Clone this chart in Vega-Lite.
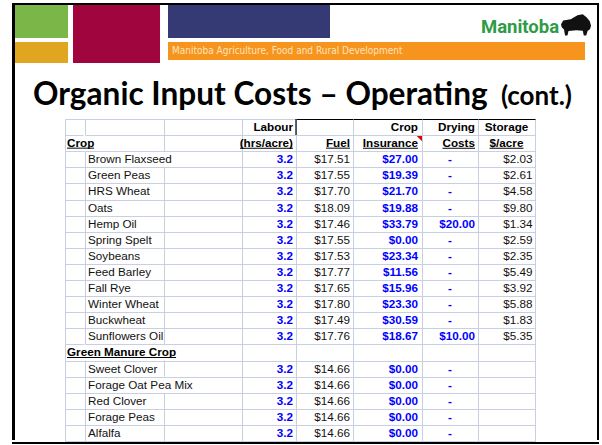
{
  "$schema": "https://vega.github.io/schema/vega-lite/v6.json",
  "background": "white",
  "padding": {"left": 12, "top": 3, "right": 3, "bottom": 3},
  "spacing": 0,
  "config": {
    "view": {"stroke": null},
    "text": {"font": "Liberation Sans", "fontSize": 11.7}
  },
  "datasets": {
    "crops": [
      {"row": "Brown Flaxseed", "labour": 3.2, "fuel": 17.51, "insurance": 27.00, "drying": null, "storage": 2.03},
      {"row": "Green Peas", "labour": 3.2, "fuel": 17.55, "insurance": 19.39, "drying": null, "storage": 2.61},
      {"row": "HRS Wheat", "labour": 3.2, "fuel": 17.70, "insurance": 21.70, "drying": null, "storage": 4.58},
      {"row": "Oats", "labour": 3.2, "fuel": 18.09, "insurance": 19.88, "drying": null, "storage": 9.80},
      {"row": "Hemp Oil", "labour": 3.2, "fuel": 17.46, "insurance": 33.79, "drying": 20.00, "storage": 1.34},
      {"row": "Spring Spelt", "labour": 3.2, "fuel": 17.55, "insurance": 0.00, "drying": null, "storage": 2.59},
      {"row": "Soybeans", "labour": 3.2, "fuel": 17.53, "insurance": 23.34, "drying": null, "storage": 2.35},
      {"row": "Feed Barley", "labour": 3.2, "fuel": 17.77, "insurance": 11.56, "drying": null, "storage": 5.49},
      {"row": "Fall Rye", "labour": 3.2, "fuel": 17.65, "insurance": 15.96, "drying": null, "storage": 3.92},
      {"row": "Winter Wheat", "labour": 3.2, "fuel": 17.80, "insurance": 23.30, "drying": null, "storage": 5.88},
      {"row": "Buckwheat", "labour": 3.2, "fuel": 17.49, "insurance": 30.59, "drying": null, "storage": 1.83},
      {"row": "Sunflowers Oil", "labour": 3.2, "fuel": 17.76, "insurance": 18.67, "drying": 10.00, "storage": 5.35},
      {"row": "Sweet Clover", "labour": 3.2, "fuel": 14.66, "insurance": 0.00, "drying": null, "storage": null},
      {"row": "Forage Oat Pea Mix", "labour": 3.2, "fuel": 14.66, "insurance": 0.00, "drying": null, "storage": null},
      {"row": "Red Clover", "labour": 3.2, "fuel": 14.66, "insurance": 0.00, "drying": null, "storage": null},
      {"row": "Forage Peas", "labour": 3.2, "fuel": 14.66, "insurance": 0.00, "drying": null, "storage": null},
      {"row": "Alfalfa", "labour": 3.2, "fuel": 14.66, "insurance": 0.00, "drying": null, "storage": null}
    ],
    "labels": [
      {"column": "Crop", "row": "hdr2", "text": "Crop"},
      {"column": "Crop", "row": "Green Manure Crop", "text": "Green Manure Crop"},
      {"column": "Labour", "row": "hdr1", "text": "Labour"},
      {"column": "Labour", "row": "hdr2", "text": "(hrs/acre)"},
      {"column": "Fuel", "row": "hdr2", "text": "Fuel"},
      {"column": "Insurance", "row": "hdr1", "text": "Crop"},
      {"column": "Insurance", "row": "hdr2", "text": "Insurance"},
      {"column": "Drying", "row": "hdr1", "text": "Drying"},
      {"column": "Drying", "row": "hdr2", "text": "Costs"},
      {"column": "Storage", "row": "hdr1", "text": "Storage"},
      {"column": "Storage", "row": "hdr2", "text": "$/acre"}
    ],
    "banner": [
      {"item": "division", "text": "Manitoba Agriculture, Food and Rural Development"},
      {"item": "logo", "text": "Manitoba"}
    ],
    "title": [
      {"part": "main", "text": "Organic Input Costs – Operating"},
      {"part": "cont", "text": "(cont.)"}
    ]
  },
  "vconcat": [
    {"width": 587, "height": 2, "view": {"fill": "#000000"}, "data": {"values": []}, "mark": "point", "encoding": {}},
    {
      "spacing": 0,
      "hconcat": [
        {"width": 3, "height": 435, "view": {"fill": "#000000"}, "data": {"values": []}, "mark": "point", "encoding": {}},
        {
          "spacing": 0,
          "vconcat": [
            {
              "spacing": 8,
              "hconcat": [
                {
                  "spacing": 5,
                  "hconcat": [
                    {
                      "spacing": 4,
                      "vconcat": [
                        {"width": 53, "height": 33, "view": {"fill": "#7ab648"}, "data": {"values": []}, "mark": "point", "encoding": {}},
                        {"width": 53, "height": 21, "view": {"fill": "#e0a61f"}, "data": {"values": []}, "mark": "point", "encoding": {}}
                      ]
                    },
                    {"width": 87, "height": 58, "view": {"fill": "#a1053e"}, "data": {"values": []}, "mark": "point", "encoding": {}}
                  ]
                },
                {
                  "spacing": 4,
                  "vconcat": [
                    {
                      "spacing": 150,
                      "hconcat": [
                        {"width": 162, "height": 33, "view": {"fill": "#363a74"}, "data": {"values": []}, "mark": "point", "encoding": {}},
                        {
                          "spacing": 0,
                          "bounds": "flush",
                          "hconcat": [
                            {
                              "width": 80, "height": 33,
                              "data": {"name": "banner"},
                              "transform": [{"filter": {"field": "item", "equal": "logo"}}],
                              "mark": {"type": "text", "font": "Roboto", "fontWeight": "bold", "fontSize": 18.5, "color": "#2e9b47", "align": "center", "dy": 5.5},
                              "encoding": {"text": {"field": "text"}}
                            },
                            {
                              "width": 32, "height": 33,
                              "data": {"values": [{"icon": "bison"}]},
                              "mark": {"type": "point", "shape": "M-1,-0.05L-0.85,-0.3L-0.35,-0.38L0.1,-0.65L0.45,-0.72L0.72,-0.5L0.92,-0.25L1,0.05L0.93,0.28L0.78,0.38L0.68,0.7L0.52,0.7L0.45,0.38L0.02,0.35L-0.5,0.4L-0.57,0.7L-0.73,0.7L-0.8,0.3L-0.95,0.15Z", "size": 900, "filled": true, "color": "#111111", "opacity": 1, "strokeWidth": 0, "yOffset": 3.5},
                              "encoding": {}
                            }
                          ]
                        }
                      ]
                    },
                    {
                      "width": 417, "height": 18,
                      "view": {"fill": "#f7941d"},
                      "data": {"name": "banner"},
                      "transform": [{"filter": {"field": "item", "equal": "division"}}],
                      "mark": {"type": "text", "align": "left", "dx": 4, "font": "DejaVu Sans Condensed, sans-serif", "fontSize": 10, "color": "#fde5bd"},
                      "encoding": {
                        "x": {"field": "item", "type": "nominal", "bandPosition": 0, "scale": {"type": "band", "paddingInner": 0, "paddingOuter": 0}, "axis": null},
                        "text": {"field": "text"}
                      }
                    }
                  ]
                }
              ]
            },
            {
              "width": 582, "height": 55,
              "data": {"name": "title"},
              "layer": [
                {
                  "transform": [{"filter": {"field": "part", "equal": "main"}}],
                  "mark": {"type": "text", "align": "left", "baseline": "alphabetic", "font": "Lato", "fontWeight": "bold", "fontSize": 31.6, "dx": 18, "dy": 14, "color": "#000000"},
                  "encoding": {
                    "x": {"field": "part", "type": "nominal", "bandPosition": 0, "scale": {"type": "band", "domain": ["main", "cont"], "paddingInner": 0, "paddingOuter": 0}, "axis": null},
                    "text": {"field": "text"}
                  }
                },
                {
                  "transform": [{"filter": {"field": "part", "equal": "cont"}}],
                  "mark": {"type": "text", "align": "right", "baseline": "alphabetic", "font": "Lato", "fontWeight": "bold", "fontSize": 26, "dx": -25, "dy": 14, "color": "#000000"},
                  "encoding": {
                    "x": {"field": "part", "type": "nominal", "bandPosition": 1, "scale": {"type": "band", "domain": ["main", "cont"], "paddingInner": 0, "paddingOuter": 0}, "axis": null},
                    "text": {"field": "text"}
                  }
                }
              ]
            },
            {
              "spacing": 0,
              "bounds": "flush",
              "hconcat": [
                {"width": 50, "height": 322, "data": {"values": []}, "mark": "point", "encoding": {}},
                {
                  "width": 20, "height": 322,
                  "view": {"stroke": "#c7cfe1"},
                  "data": {"name": "crops"},
                  "mark": {"type": "rect", "opacity": 0},
                  "encoding": {
                    "x": {"datum": "indent", "type": "nominal", "scale": {"type": "band", "paddingInner": 0, "paddingOuter": 0}, "axis": null},
                    "y": {"field": "row", "type": "nominal", "scale": {"type": "band", "domain": ["hdr1","hdr2","Brown Flaxseed","Green Peas","HRS Wheat","Oats","Hemp Oil","Spring Spelt","Soybeans","Feed Barley","Fall Rye","Winter Wheat","Buckwheat","Sunflowers Oil","Green Manure Crop","Sweet Clover","Forage Oat Pea Mix","Red Clover","Forage Peas","Alfalfa"], "paddingInner": 0, "paddingOuter": 0}, "axis": {"title": null, "grid": true, "tickBand": "extent", "labels": false, "ticks": false, "domain": false, "gridColor": "#c7cfe1", "zindex": 1}}
                  }
                },
                {
                  "width": 157, "height": 322,
                  "view": {"stroke": "#c7cfe1"},
                  "encoding": {
                    "x": {"datum": "name", "type": "nominal", "scale": {"type": "band", "domain": ["name", "name2"], "paddingInner": 0, "paddingOuter": 0}, "axis": {"title": null, "grid": true, "tickBand": "extent", "labels": false, "ticks": false, "domain": false, "gridColor": "#c7cfe1", "zindex": 0}},
                    "y": {"field": "row", "type": "nominal", "scale": {"type": "band", "domain": ["hdr1","hdr2","Brown Flaxseed","Green Peas","HRS Wheat","Oats","Hemp Oil","Spring Spelt","Soybeans","Feed Barley","Fall Rye","Winter Wheat","Buckwheat","Sunflowers Oil","Green Manure Crop","Sweet Clover","Forage Oat Pea Mix","Red Clover","Forage Peas","Alfalfa"], "paddingInner": 0, "paddingOuter": 0}, "axis": {"title": null, "grid": true, "tickBand": "extent", "labels": false, "ticks": false, "domain": false, "gridColor": "#c7cfe1", "zindex": 1}}
                  },
                  "layer": [
                    {
                      "data": {"name": "crops"},
                      "transform": [{"filter": {"field": "row", "oneOf": ["Brown Flaxseed", "Forage Oat Pea Mix"]}}],
                      "mark": {"type": "rect", "fill": "white", "xOffset": -1.5},
                      "encoding": {"x": {"datum": "name2", "type": "nominal", "scale": {"type": "band", "domain": ["name", "name2"], "paddingInner": 0, "paddingOuter": 0}, "axis": {"title": null, "grid": true, "tickBand": "extent", "labels": false, "ticks": false, "domain": false, "gridColor": "#c7cfe1", "zindex": 0}}}
                    },
                    {
                      "data": {"name": "labels"},
                      "transform": [{"filter": {"field": "column", "equal": "Crop"}}],
                      "mark": {"type": "rect", "fill": "white", "xOffset": -1.5}
                    },
                    {
                      "data": {"name": "labels"},
                      "transform": [{"filter": {"field": "row", "equal": "Green Manure Crop"}}],
                      "mark": {"type": "rect", "fill": "white", "xOffset": -1.5},
                      "encoding": {"x": {"datum": "name2", "type": "nominal", "scale": {"type": "band", "domain": ["name", "name2"], "paddingInner": 0, "paddingOuter": 0}, "axis": {"title": null, "grid": true, "tickBand": "extent", "labels": false, "ticks": false, "domain": false, "gridColor": "#c7cfe1", "zindex": 0}}}
                    },
                    {
                      "data": {"name": "crops"},
                      "mark": {"type": "text", "align": "left", "dx": -36.25, "color": "#111111"},
                      "encoding": {"text": {"field": "row"}}
                    },
                    {
                      "data": {"name": "labels"},
                      "transform": [{"filter": {"field": "column", "equal": "Crop"}}],
                      "mark": {"type": "text", "align": "left", "dx": -57.25, "fontWeight": "bold", "color": "#000000"},
                      "encoding": {"text": {"field": "text"}}
                    },
                    {
                      "data": {"name": "labels"},
                      "transform": [{"filter": {"and": [{"field": "column", "equal": "Crop"}, {"field": "row", "equal": "hdr2"}]}}],
                      "mark": {"type": "tick", "orient": "horizontal", "size": 27, "thickness": 1, "xOffset": -43.7, "yOffset": 5, "color": "#000000", "opacity": 1}
                    },
                    {
                      "data": {"name": "labels"},
                      "transform": [{"filter": {"field": "row", "equal": "Green Manure Crop"}}],
                      "mark": {"type": "tick", "orient": "horizontal", "size": 109, "thickness": 1, "xOffset": -2.7, "yOffset": 5, "color": "#000000", "opacity": 1}
                    }
                  ]
                },
                {
                  "width": 54, "height": 322,
                  "view": {"stroke": "#c7cfe1"},
                  "encoding": {
                    "x": {"datum": "Labour", "type": "nominal", "scale": {"type": "band", "paddingInner": 0, "paddingOuter": 0}, "axis": null},
                    "y": {"field": "row", "type": "nominal", "scale": {"type": "band", "domain": ["hdr1","hdr2","Brown Flaxseed","Green Peas","HRS Wheat","Oats","Hemp Oil","Spring Spelt","Soybeans","Feed Barley","Fall Rye","Winter Wheat","Buckwheat","Sunflowers Oil","Green Manure Crop","Sweet Clover","Forage Oat Pea Mix","Red Clover","Forage Peas","Alfalfa"], "paddingInner": 0, "paddingOuter": 0}, "axis": {"title": null, "grid": true, "tickBand": "extent", "labels": false, "ticks": false, "domain": false, "gridColor": "#c7cfe1", "zindex": 1}}
                  },
                  "layer": [
                    {
                      "data": {"name": "labels"},
                      "transform": [{"filter": {"field": "column", "equal": "Labour"}}],
                      "mark": {"type": "text", "align": "right", "dx": 24, "fontWeight": "bold", "color": "#000000"},
                      "encoding": {"text": {"field": "text"}}
                    },
                    {
                      "data": {"name": "labels"},
                      "transform": [{"filter": {"and": [{"field": "column", "equal": "Labour"}, {"field": "row", "equal": "hdr2"}]}}],
                      "mark": {"type": "tick", "orient": "horizontal", "size": 53, "thickness": 1, "xOffset": -2.5, "yOffset": 5, "color": "#000000", "opacity": 1}
                    },
                    {
                      "data": {"name": "crops"},
                      "mark": {"type": "text", "align": "right", "dx": 24, "fontWeight": "bold", "color": "#0000ff"},
                      "encoding": {"text": {"field": "labour", "type": "quantitative", "format": ".1f"}}
                    }
                  ]
                },
                {
                  "width": 57, "height": 322,
                  "view": {"stroke": "#c7cfe1"},
                  "encoding": {
                    "x": {"datum": "Fuel", "type": "nominal", "scale": {"type": "band", "paddingInner": 0, "paddingOuter": 0}, "axis": {"title": null, "orient": "top", "domain": true, "domainColor": "#000000", "domainWidth": 1.2, "labels": false, "ticks": false, "grid": false, "zindex": 1}},
                    "y": {"field": "row", "type": "nominal", "scale": {"type": "band", "domain": ["hdr1","hdr2","Brown Flaxseed","Green Peas","HRS Wheat","Oats","Hemp Oil","Spring Spelt","Soybeans","Feed Barley","Fall Rye","Winter Wheat","Buckwheat","Sunflowers Oil","Green Manure Crop","Sweet Clover","Forage Oat Pea Mix","Red Clover","Forage Peas","Alfalfa"], "paddingInner": 0, "paddingOuter": 0}, "axis": {"title": null, "grid": true, "tickBand": "extent", "labels": false, "ticks": false, "domain": false, "gridColor": "#c7cfe1", "zindex": 1}}
                  },
                  "layer": [
                    {
                      "data": {"name": "labels"},
                      "transform": [{"filter": {"field": "column", "equal": "Fuel"}}],
                      "mark": {"type": "text", "align": "right", "dx": 25.5, "fontWeight": "bold", "color": "#000000"},
                      "encoding": {"text": {"field": "text"}}
                    },
                    {
                      "data": {"name": "labels"},
                      "transform": [{"filter": {"field": "column", "equal": "Fuel"}}],
                      "mark": {"type": "tick", "orient": "horizontal", "size": 24, "thickness": 1, "xOffset": 13.5, "yOffset": 5, "color": "#000000", "opacity": 1}
                    },
                    {
                      "data": {"name": "labels"},
                      "transform": [{"filter": {"field": "column", "equal": "Fuel"}}],
                      "mark": {"type": "tick", "orient": "vertical", "size": 16.1, "thickness": 1.2, "xOffset": -28.5, "yOffset": -16.1, "color": "#000000", "opacity": 1}
                    },
                    {
                      "data": {"name": "crops"},
                      "mark": {"type": "text", "align": "right", "dx": 25.5, "color": "#111111"},
                      "encoding": {"text": {"field": "fuel", "type": "quantitative", "format": "$.2f"}}
                    }
                  ]
                },
                {
                  "width": 69, "height": 322,
                  "view": {"stroke": "#c7cfe1"},
                  "encoding": {
                    "x": {"datum": "Insurance", "type": "nominal", "scale": {"type": "band", "paddingInner": 0, "paddingOuter": 0}, "axis": {"title": null, "orient": "top", "domain": true, "domainColor": "#000000", "domainWidth": 1.2, "labels": false, "ticks": false, "grid": false, "zindex": 1}},
                    "y": {"field": "row", "type": "nominal", "scale": {"type": "band", "domain": ["hdr1","hdr2","Brown Flaxseed","Green Peas","HRS Wheat","Oats","Hemp Oil","Spring Spelt","Soybeans","Feed Barley","Fall Rye","Winter Wheat","Buckwheat","Sunflowers Oil","Green Manure Crop","Sweet Clover","Forage Oat Pea Mix","Red Clover","Forage Peas","Alfalfa"], "paddingInner": 0, "paddingOuter": 0}, "axis": {"title": null, "grid": true, "tickBand": "extent", "labels": false, "ticks": false, "domain": false, "gridColor": "#c7cfe1", "zindex": 1}}
                  },
                  "layer": [
                    {
                      "data": {"name": "labels"},
                      "transform": [{"filter": {"field": "column", "equal": "Insurance"}}],
                      "mark": {"type": "text", "align": "right", "dx": 30.5, "fontWeight": "bold", "color": "#000000"},
                      "encoding": {"text": {"field": "text"}}
                    },
                    {
                      "data": {"name": "labels"},
                      "transform": [{"filter": {"and": [{"field": "column", "equal": "Insurance"}, {"field": "row", "equal": "hdr2"}]}}],
                      "mark": {"type": "tick", "orient": "horizontal", "size": 55, "thickness": 1, "xOffset": 3, "yOffset": 5, "color": "#000000", "opacity": 1}
                    },
                    {
                      "data": {"name": "labels"},
                      "transform": [{"filter": {"and": [{"field": "column", "equal": "Insurance"}, {"field": "row", "equal": "hdr2"}]}}],
                      "mark": {"type": "point", "shape": "M-1,-1L1,-1L1,1Z", "size": 36, "filled": true, "color": "#e00000", "opacity": 1, "strokeWidth": 0, "xOffset": 31.5, "yOffset": -5}
                    },
                    {
                      "data": {"name": "crops"},
                      "mark": {"type": "text", "align": "right", "dx": 30.5, "fontWeight": "bold", "color": "#0000ff"},
                      "encoding": {"text": {"field": "insurance", "type": "quantitative", "format": "$.2f"}}
                    }
                  ]
                },
                {
                  "width": 56, "height": 322,
                  "view": {"stroke": "#c7cfe1"},
                  "encoding": {
                    "x": {"datum": "Drying", "type": "nominal", "scale": {"type": "band", "paddingInner": 0, "paddingOuter": 0}, "axis": {"title": null, "orient": "top", "domain": true, "domainColor": "#000000", "domainWidth": 1.2, "labels": false, "ticks": false, "grid": false, "zindex": 1}},
                    "y": {"field": "row", "type": "nominal", "scale": {"type": "band", "domain": ["hdr1","hdr2","Brown Flaxseed","Green Peas","HRS Wheat","Oats","Hemp Oil","Spring Spelt","Soybeans","Feed Barley","Fall Rye","Winter Wheat","Buckwheat","Sunflowers Oil","Green Manure Crop","Sweet Clover","Forage Oat Pea Mix","Red Clover","Forage Peas","Alfalfa"], "paddingInner": 0, "paddingOuter": 0}, "axis": {"title": null, "grid": true, "tickBand": "extent", "labels": false, "ticks": false, "domain": false, "gridColor": "#c7cfe1", "zindex": 1}}
                  },
                  "layer": [
                    {
                      "data": {"name": "labels"},
                      "transform": [{"filter": {"field": "column", "equal": "Drying"}}],
                      "mark": {"type": "text", "align": "right", "dx": 25, "fontWeight": "bold", "color": "#000000"},
                      "encoding": {"text": {"field": "text"}}
                    },
                    {
                      "data": {"name": "labels"},
                      "transform": [{"filter": {"and": [{"field": "column", "equal": "Drying"}, {"field": "row", "equal": "hdr2"}]}}],
                      "mark": {"type": "tick", "orient": "horizontal", "size": 32.5, "thickness": 1, "xOffset": 8.75, "yOffset": 5, "color": "#000000", "opacity": 1}
                    },
                    {
                      "data": {"name": "crops"},
                      "transform": [{"filter": "datum.drying != null"}],
                      "mark": {"type": "text", "align": "right", "dx": 25, "fontWeight": "bold", "color": "#0000ff"},
                      "encoding": {"text": {"field": "drying", "type": "quantitative", "format": "$.2f"}}
                    },
                    {
                      "data": {"name": "crops"},
                      "transform": [{"filter": "datum.drying == null"}],
                      "mark": {"type": "text", "align": "center", "fontWeight": "bold", "color": "#0000ff"},
                      "encoding": {"text": {"value": "-"}}
                    }
                  ]
                },
                {
                  "width": 57, "height": 322,
                  "view": {"stroke": "#c7cfe1"},
                  "encoding": {
                    "x": {"datum": "Storage", "type": "nominal", "scale": {"type": "band", "paddingInner": 0, "paddingOuter": 0}, "axis": {"title": null, "orient": "top", "domain": true, "domainColor": "#000000", "domainWidth": 1.2, "labels": false, "ticks": false, "grid": false, "zindex": 1}},
                    "y": {"field": "row", "type": "nominal", "scale": {"type": "band", "domain": ["hdr1","hdr2","Brown Flaxseed","Green Peas","HRS Wheat","Oats","Hemp Oil","Spring Spelt","Soybeans","Feed Barley","Fall Rye","Winter Wheat","Buckwheat","Sunflowers Oil","Green Manure Crop","Sweet Clover","Forage Oat Pea Mix","Red Clover","Forage Peas","Alfalfa"], "paddingInner": 0, "paddingOuter": 0}, "axis": {"title": null, "grid": true, "tickBand": "extent", "labels": false, "ticks": false, "domain": false, "gridColor": "#c7cfe1", "zindex": 1}}
                  },
                  "layer": [
                    {
                      "data": {"name": "labels"},
                      "transform": [{"filter": {"field": "column", "equal": "Storage"}}],
                      "mark": {"type": "text", "align": "center", "fontWeight": "bold", "color": "#000000"},
                      "encoding": {"text": {"field": "text"}}
                    },
                    {
                      "data": {"name": "labels"},
                      "transform": [{"filter": {"and": [{"field": "column", "equal": "Storage"}, {"field": "row", "equal": "hdr2"}]}}],
                      "mark": {"type": "tick", "orient": "horizontal", "size": 34, "thickness": 1, "yOffset": 5, "color": "#000000", "opacity": 1}
                    },
                    {
                      "data": {"name": "crops"},
                      "transform": [{"filter": "datum.storage != null"}],
                      "mark": {"type": "text", "align": "right", "dx": 26, "color": "#111111"},
                      "encoding": {"text": {"field": "storage", "type": "quantitative", "format": "$.2f"}}
                    }
                  ]
                }
              ]
            }
          ]
        },
        {"width": 2, "height": 435, "view": {"fill": "#000000"}, "data": {"values": []}, "mark": "point", "encoding": {}}
      ]
    },
    {"width": 587, "height": 2, "view": {"fill": "#000000"}, "data": {"values": []}, "mark": "point", "encoding": {}}
  ]
}
